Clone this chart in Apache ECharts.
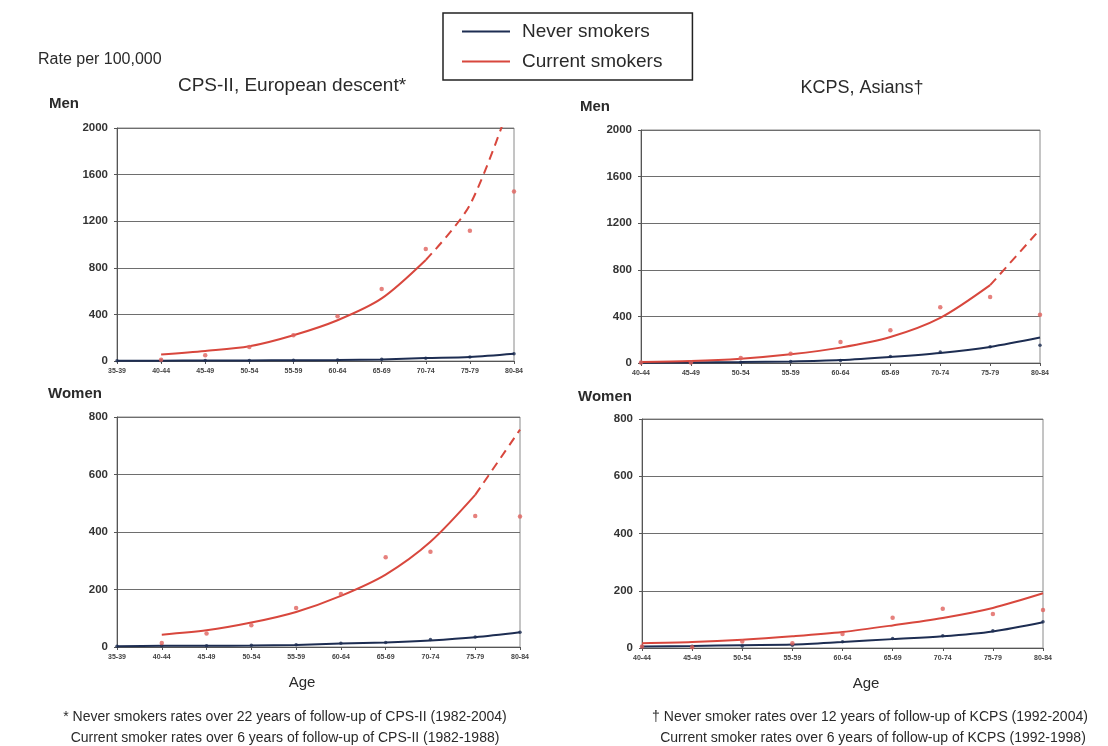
<!DOCTYPE html>
<html><head><meta charset="utf-8">
<script src="https://cdn.jsdelivr.net/npm/echarts@6/dist/echarts.min.js"></script>
<style>html,body{margin:0;padding:0;background:#fff}#c{width:1108px;height:746px}</style>
</head><body><div id="c"></div>
<script>
const agesCPS = ['35-39','40-44','45-49','50-54','55-59','60-64','65-69','70-74','75-79','80-84'];
const agesKCPS = ['40-44','45-49','50-54','55-59','60-64','65-69','70-74','75-79','80-84'];
const menTicks = [0,400,800,1200,1600,2000];
const womenTicks = [0,200,400,600,800];

const cpsMenNeverLine = [2,3,4,5,6,8,13,25,35,63];
const cpsMenNeverObs = [2,3,4,5,6,9,14,24,35,63];
const cpsMenCurrentLine = [null,55,86,126,221,350,537,867,1340,2310];
const cpsMenCurrentObs = [null,10,50,120,220,385,617,961,1119,1455];
const cpsMenDashFrom = 7;

const kcpsMenNeverLine = [3,5,8,13,25,52,86,138,218];
const kcpsMenNeverObs = [2,4,7,12,22,55,95,140,152];
const kcpsMenCurrentLine = [9,17,37,75,132,223,387,668,1146];
const kcpsMenCurrentObs = [5,5,43,80,180,281,478,567,415];
const kcpsMenDashFrom = 7;

const cpsWomenNeverLine = [3,4,4,5,7,12,16,23,34,51];
const cpsWomenNeverObs = [3,4,4,6,8,13,16,26,35,51];
const cpsWomenCurrentLine = [null,43,58,85,122,178,252,366,529,756];
const cpsWomenCurrentObs = [null,14,47,76,136,184,312,331,456,454];
const cpsWomenDashFrom = 8;

const kcpsWomenNeverLine = [5,7,10,12,21,31,41,58,90];
const kcpsWomenNeverObs = [4,6,7,10,22,33,43,60,92];
const kcpsWomenCurrentLine = [17,21,29,41,56,79,105,140,191];
const kcpsWomenCurrentObs = [5,3,23,17,49,106,137,119,133];
const kcpsWomenDashFrom = null;

const NAVY = '#1d2d52', RED = '#d8473d', DOT = '#e0625c';
const FONT = '"Liberation Sans", Arial, sans-serif';

const grids = [
  {left:117, top:128, width:397, height:233},
  {left:641, top:130, width:399, height:233},
  {left:117, top:417, width:403, height:230},
  {left:642, top:419, width:401, height:229}
];
const panels = [
  {cats:agesCPS, ticks:menTicks, nl:cpsMenNeverLine, no:cpsMenNeverObs, cl:cpsMenCurrentLine, co:cpsMenCurrentObs, dash:cpsMenDashFrom},
  {cats:agesKCPS, ticks:menTicks, nl:kcpsMenNeverLine, no:kcpsMenNeverObs, cl:kcpsMenCurrentLine, co:kcpsMenCurrentObs, dash:kcpsMenDashFrom},
  {cats:agesCPS, ticks:womenTicks, nl:cpsWomenNeverLine, no:cpsWomenNeverObs, cl:cpsWomenCurrentLine, co:cpsWomenCurrentObs, dash:cpsWomenDashFrom},
  {cats:agesKCPS, ticks:womenTicks, nl:kcpsWomenNeverLine, no:kcpsWomenNeverObs, cl:kcpsWomenCurrentLine, co:kcpsWomenCurrentObs, dash:kcpsWomenDashFrom}
];

const xAxis = [], yAxis = [], series = [];
panels.forEach((p, i) => {
  const t = p.ticks;
  xAxis.push({type:'category', gridIndex:i, data:p.cats, boundaryGap:false,
    axisLine:{lineStyle:{color:'#555'}}, axisTick:{show:true, length:3, lineStyle:{color:'#555'}},
    axisLabel:{fontSize:7, fontWeight:'bold', color:'#444', fontFamily:FONT, margin:7, interval:0}});
  yAxis.push({type:'value', gridIndex:i, min:t[0], max:t[t.length-1], interval:t[1]-t[0],
    axisLine:{show:true, lineStyle:{color:'#555'}}, axisTick:{show:true, length:3, lineStyle:{color:'#555'}},
    axisLabel:{fontSize:11.5, fontWeight:'bold', color:'#333', fontFamily:FONT, margin:9, formatter:v => String(v)},
    splitLine:{lineStyle:{color:'#6e6e6e', width:1}}});
  series.push({name:'Never smokers', type:'line', xAxisIndex:i, yAxisIndex:i, data:p.nl,
    smooth:0.3, symbol:'none', lineStyle:{color:NAVY, width:2}, itemStyle:{color:NAVY}, z:3});
  series.push({name:'Never smokers', type:'scatter', xAxisIndex:i, yAxisIndex:i, data:p.no,
    symbolSize:3.5, itemStyle:{color:NAVY}, z:4});
  const solid = p.dash == null ? p.cl : p.cl.map((v, k) => k <= p.dash ? v : null);
  series.push({name:'Current smokers', type:'line', xAxisIndex:i, yAxisIndex:i, data:solid,
    smooth:0.3, symbol:'none', connectNulls:false, lineStyle:{color:RED, width:2}, itemStyle:{color:RED}, z:3});
  if (p.dash != null) {
    const dashed = p.cl.map((v, k) => k >= p.dash ? v : null);
    series.push({name:'Current smokers', type:'line', xAxisIndex:i, yAxisIndex:i, data:dashed,
      smooth:0.3, symbol:'none', clip:true, lineStyle:{color:RED, width:2, type:[9,6]}, itemStyle:{color:RED}, z:3});
  }
  series.push({name:'Current smokers', type:'scatter', xAxisIndex:i, yAxisIndex:i, data:p.co,
    symbolSize:4.5, itemStyle:{color:DOT}, z:4});
});

const txt = (x, y, text, size, weight, align) => ({type:'text', x, y,
  style:{text, font:(weight||'normal') + ' ' + size + 'px ' + FONT, fill:'#2a2a2a',
    textAlign:align||'left', textVerticalAlign:'middle'}});

const chart = echarts.init(document.getElementById('c'), null, {renderer:'canvas'});
chart.setOption({
  animation:false,
  backgroundColor:'#fff',
  grid: grids.map(g => Object.assign({show:true, borderColor:'#8a8a8a', borderWidth:1, backgroundColor:'transparent'}, g)),
  xAxis, yAxis, series,
  legend:{left:443, top:13, orient:'vertical', data:['Never smokers','Current smokers'],
    icon:'rect', itemWidth:48, itemHeight:2, itemGap:11,
    borderColor:'#222', borderWidth:1.5, padding:[9,30,9,19],
    textStyle:{fontSize:19, color:'#2a2a2a', fontFamily:FONT, padding:[0,0,0,7]}},
  graphic:[
    txt(38, 60, 'Rate per 100,000', 16),
    txt(292, 86, 'CPS-II, European descent*', 19, 'normal', 'center'),
    txt(862, 88, 'KCPS, Asians\u2020', 18, 'normal', 'center'),
    txt(49, 104, 'Men', 15, 'bold'),
    txt(580, 107, 'Men', 15, 'bold'),
    txt(48, 394, 'Women', 15, 'bold'),
    txt(578, 397, 'Women', 15, 'bold'),
    txt(302, 683, 'Age', 15, 'normal', 'center'),
    txt(866, 684, 'Age', 15, 'normal', 'center'),
    txt(285, 717, '* Never smokers rates over 22 years of follow-up of CPS-II (1982-2004)', 14, 'normal', 'center'),
    txt(285, 738, 'Current smoker rates over 6 years of follow-up of CPS-II (1982-1988)', 14, 'normal', 'center'),
    txt(870, 717, '\u2020 Never smoker rates over 12 years of follow-up of KCPS (1992-2004)', 14, 'normal', 'center'),
    txt(873, 738, 'Current smoker rates over 6 years of follow-up of KCPS (1992-1998)', 14, 'normal', 'center')
  ]
});
</script></body></html>
